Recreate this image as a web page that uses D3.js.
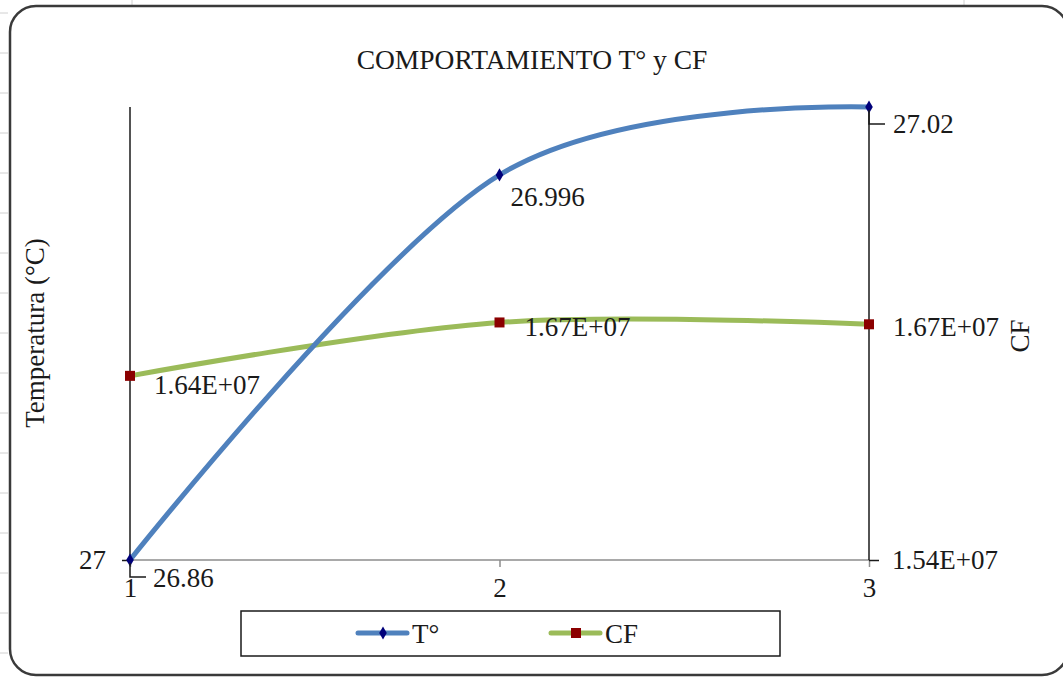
<!DOCTYPE html>
<html>
<head>
<meta charset="utf-8">
<script src="https://cdn.jsdelivr.net/npm/d3@7"></script>
<style>
  html, body { margin: 0; padding: 0; background: #ffffff; }
  svg { display: block; }
  text { font-family: "Liberation Serif", "Times New Roman", serif; fill: #1a1a1a; }
</style>
</head>
<body>
<svg id="chart" width="1063" height="677"></svg>
<script>
// ---- data ----
const categories = [1, 2, 3];
const tempValues = [26.86, 26.996, 27.02];
const cfValues = [1.64e7, 1.669e7, 1.668e7];
const tempLabels = ["26.86", "26.996", "27.02"];
const cfLabels = ["1.64E+07", "1.67E+07", "1.67E+07"];
const tempDomain = [26.86, 27.02];
const cfDomain = [1.54e7, 1.786e7];
const leftTickValues = [26.86];
const leftTickLabels = ["27"];
const rightTickValues = [1.54e7];
const rightTickLabels = ["1.54E+07"];
const seriesNames = ["T°", "CF"];
const titleText = "COMPORTAMIENTO T° y CF";
const yTitleLeft = "Temperatura (°C)";
const yTitleRight = "CF";

// ---- layout ----
const svg = d3.select("#chart");
const plot = { left: 130, right: 869, top: 107, bottom: 560 };
const blue = "#4f81bd", green = "#9bbb59";
const fontSize = 27;

// spreadsheet gridline ticks on the far left (background artifacts)
const leftTicks = d3.range(13, 677, 40);
svg.append("g").selectAll("line").data(leftTicks).join("line")
  .attr("x1", 0).attr("x2", 8).attr("y1", d => d).attr("y2", d => d)
  .attr("stroke", "#d0d0d0").attr("stroke-width", 1);
svg.append("line").attr("x1", 132).attr("x2", 132).attr("y1", 0).attr("y2", 6)
  .attr("stroke", "#d0d0d0");
svg.append("line").attr("x1", 964).attr("x2", 964).attr("y1", 0).attr("y2", 6)
  .attr("stroke", "#d0d0d0");

// chart border
svg.append("rect")
  .attr("x", 10).attr("y", 6).attr("width", 1058).attr("height", 669)
  .attr("rx", 26).attr("ry", 26)
  .attr("fill", "#fff").attr("stroke", "#3a3a3a").attr("stroke-width", 2.5);

// scales
const x = d3.scalePoint().domain(categories).range([plot.left, plot.right]);
const yT = d3.scaleLinear().domain(tempDomain).range([plot.bottom, plot.top]);
const yC = d3.scaleLinear().domain(cfDomain).range([plot.bottom, plot.top]);

// title
svg.append("text").attr("x", 532).attr("y", 69).attr("text-anchor", "middle")
  .style("font-size", "27.5px").text(titleText);

// x axis
const xAxis = d3.axisBottom(x).tickSize(7).tickPadding(4);
const gx = svg.append("g").attr("transform", `translate(0,${plot.bottom})`).call(xAxis);
gx.select(".domain").attr("stroke", "#8c8c8c").attr("stroke-width", 1.5)
  .attr("d", `M${plot.left},0H${plot.right}`);
gx.selectAll(".tick line").attr("stroke", "#8c8c8c").attr("stroke-width", 1.5);
gx.selectAll(".tick text").style("font-size", fontSize + "px")
  .attr("font-family", null).attr("fill", "#1a1a1a").attr("dy", "0.97em");

// left axis
const leftAxis = d3.axisLeft(yT).tickValues(leftTickValues)
  .tickFormat((d, i) => leftTickLabels[i]).tickSize(8).tickPadding(16);
const gl = svg.append("g").attr("transform", `translate(${plot.left},0)`).call(leftAxis);
gl.select(".domain").attr("stroke", "#1a1a1a").attr("stroke-width", 1.5)
  .attr("d", `M0,${plot.top}V${plot.bottom}`);
gl.selectAll(".tick line").attr("stroke", "#1a1a1a").attr("stroke-width", 1.5);
gl.selectAll(".tick text").style("font-size", fontSize + "px")
  .attr("font-family", null).attr("fill", "#1a1a1a").attr("dy", "0.3em");

// right axis
const rightAxis = d3.axisRight(yC).tickValues(rightTickValues)
  .tickFormat((d, i) => rightTickLabels[i]).tickSize(10).tickPadding(13);
const gr = svg.append("g").attr("transform", `translate(${plot.right},0)`).call(rightAxis);
gr.select(".domain").attr("stroke", "#1a1a1a").attr("stroke-width", 1.5)
  .attr("d", `M0,${plot.top}V${plot.bottom}`);
gr.selectAll(".tick line").attr("stroke", "#1a1a1a").attr("stroke-width", 1.5);
gr.selectAll(".tick text").style("font-size", fontSize + "px")
  .attr("font-family", null).attr("fill", "#1a1a1a").attr("dy", "0.3em");

// axis titles
svg.append("text").attr("transform", "translate(44,333) rotate(-90)")
  .attr("text-anchor", "middle").style("font-size", "27px").text(yTitleLeft);
svg.append("text").attr("transform", "translate(1029,336) rotate(-90)")
  .attr("text-anchor", "middle").style("font-size", "27px").text(yTitleRight);

// lines
const curve = d3.curveCardinal.tension(0);
const lineT = d3.line().x((d, i) => x(categories[i])).y(d => yT(d)).curve(curve);
const lineC = d3.line().x((d, i) => x(categories[i])).y(d => yC(d)).curve(curve);

svg.append("path").datum(cfValues).attr("d", lineC)
  .attr("fill", "none").attr("stroke", green).attr("stroke-width", 5).attr("stroke-linecap", "round");
svg.append("path").datum(tempValues).attr("d", lineT)
  .attr("fill", "none").attr("stroke", blue).attr("stroke-width", 5).attr("stroke-linecap", "round");

// markers
const diamond = d3.symbol().type(d3.symbolDiamond).size(50);
svg.append("g").selectAll("path").data(tempValues).join("path")
  .attr("transform", (d, i) => `translate(${x(categories[i])},${yT(d)})`)
  .attr("d", diamond).attr("fill", "#00007a");
svg.append("g").selectAll("rect").data(cfValues).join("rect")
  .attr("x", (d, i) => x(categories[i]) - 5).attr("y", d => yC(d) - 5)
  .attr("width", 10).attr("height", 10).attr("fill", "#8b0000");

// data labels for T (with leader lines for 1 and 3)
const tOffsets = [[23, 27], [11, 31], [24, 26]];
svg.append("g").selectAll("text").data(tempValues).join("text")
  .attr("x", (d, i) => x(categories[i]) + tOffsets[i][0])
  .attr("y", (d, i) => yT(d) + tOffsets[i][1])
  .style("font-size", fontSize + "px")
  .text((d, i) => tempLabels[i]);
const leaders = [[0, 16], [2, 16]];
leaders.forEach(([i, len]) => {
  const px = x(categories[i]), py = yT(tempValues[i]);
  svg.append("path")
    .attr("d", `M${px},${py + 3}V${py + 17}H${px + len}`)
    .attr("fill", "none").attr("stroke", "#1a1a1a").attr("stroke-width", 1.5);
});

// data labels for CF
const cOffsets = [[24, 18], [25, 14], [24, 12]];
svg.append("g").selectAll("text").data(cfValues).join("text")
  .attr("x", (d, i) => x(categories[i]) + cOffsets[i][0])
  .attr("y", (d, i) => yC(d) + cOffsets[i][1])
  .style("font-size", fontSize + "px")
  .text((d, i) => cfLabels[i]);

// legend
const lg = svg.append("g");
lg.append("rect").attr("x", 241).attr("y", 611).attr("width", 539).attr("height", 45)
  .attr("fill", "#fff").attr("stroke", "#1a1a1a").attr("stroke-width", 1.5);
const legendItems = [
  { name: seriesNames[0], color: blue, x0: 358, marker: "diamond" },
  { name: seriesNames[1], color: green, x0: 551, marker: "square" }
];
legendItems.forEach(it => {
  const cy = 633;
  lg.append("line").attr("x1", it.x0).attr("x2", it.x0 + 49).attr("y1", cy).attr("y2", cy)
    .attr("stroke", it.color).attr("stroke-width", 5).attr("stroke-linecap", "round");
  if (it.marker === "diamond") {
    lg.append("path").attr("transform", `translate(${it.x0 + 25},${cy})`)
      .attr("d", diamond).attr("fill", "#00007a");
  } else {
    lg.append("rect").attr("x", it.x0 + 20).attr("y", cy - 5).attr("width", 10).attr("height", 10)
      .attr("fill", "#8b0000");
  }
  lg.append("text").attr("x", it.x0 + 54).attr("y", cy + 10)
    .style("font-size", fontSize + "px").text(it.name);
});
</script>
</body>
</html>
